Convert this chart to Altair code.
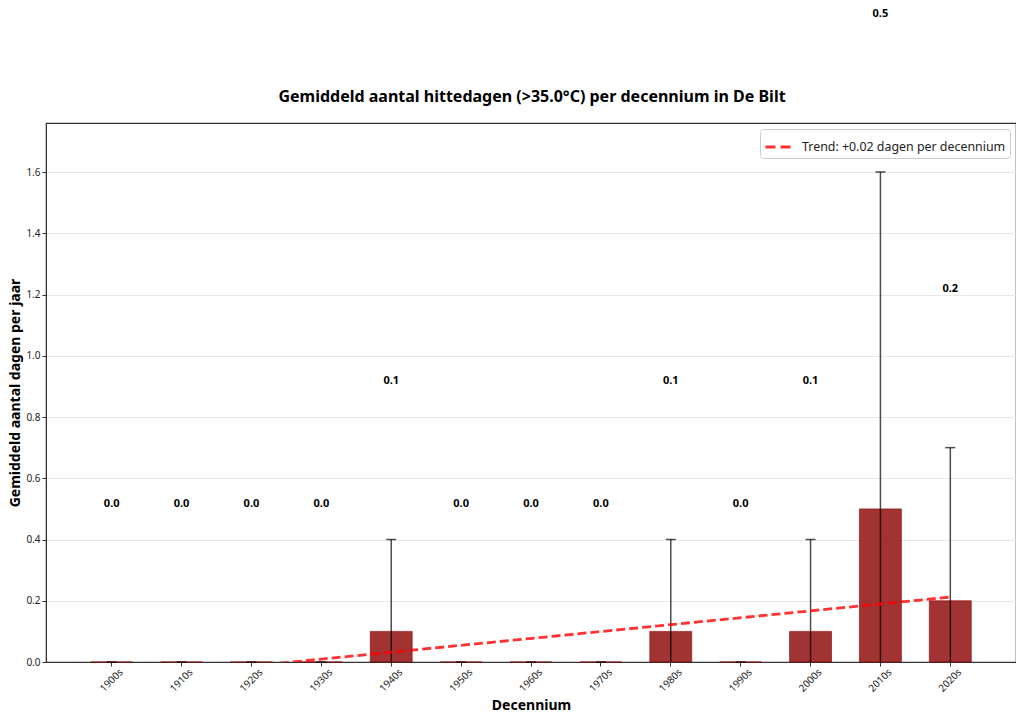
import altair as alt
import pandas as pd

decades = ["1900s", "1910s", "1920s", "1930s", "1940s", "1950s", "1960s",
           "1970s", "1980s", "1990s", "2000s", "2010s", "2020s"]
means = [0.0, 0.0, 0.0, 0.0, 0.1, 0.0, 0.0, 0.0, 0.1, 0.0, 0.1, 0.5, 0.2]
stds = [0.0, 0.0, 0.0, 0.0, 0.3, 0.0, 0.0, 0.0, 0.3, 0.0, 0.3, 1.1, 0.5]

trend_decades = ["1900s", "2020s"]
trend_values = [-0.058, 0.212]
trend_label = "Trend: +0.02 dagen per decennium"

title_text = "Gemiddeld aantal hittedagen (>35.0°C) per decennium in De Bilt"
FONT = "Noto Sans"

df = pd.DataFrame({"decade": decades, "mean": means, "std": stds})
df["lo"] = df["mean"] - df["std"]
df["hi"] = df["mean"] + df["std"]
df["label"] = [f"{m:.1f}" for m in means]

tdf = pd.DataFrame({"decade": trend_decades, "value": trend_values,
                    "series": [trend_label] * 2})

xscale = alt.Scale(domain=decades, paddingInner=0.4, paddingOuter=0.64)
yscale = alt.Scale(domain=[0, 1.76], nice=False, zero=False)

x_enc = alt.X("decade:N", scale=xscale, sort=decades,
              axis=alt.Axis(title="Decennium", labelAngle=-45, labelAlign="center",
                            labelBaseline="middle", labelPadding=14, tickSize=4,
                            labelFontSize=10, titleFontSize=14, titleFontWeight="bold",
                            titlePadding=5, labelColor="#222", titleColor="#000",
                            domainColor="#333", tickColor="#333"))
y_axis = alt.Axis(title="Gemiddeld aantal dagen per jaar",
                  values=[0, 0.2, 0.4, 0.6, 0.8, 1.0, 1.2, 1.4, 1.6], format=".1f",
                  grid=True, gridColor="#e8e8e8", tickSize=4, labelFontSize=10,
                  titleFontSize=14, titleFontWeight="bold", titlePadding=3,
                  labelColor="#222", titleColor="#000", domainColor="#333",
                  tickColor="#333")

base = alt.Chart(df)

bars = base.mark_bar(color="#8b0000", fillOpacity=0.8, stroke="#8b0000",
                     strokeOpacity=0.6, strokeWidth=1).encode(
    x=x_enc,
    y=alt.Y("mean:Q", scale=yscale, axis=y_axis),
)

err = base.mark_rule(color="#000", opacity=0.7, strokeWidth=1.5, clip=True).encode(
    x="decade:N", y="lo:Q", y2="hi:Q")

caps = base.mark_tick(color="#000", opacity=0.7, size=10, thickness=1.5,
                      orient="horizontal").encode(x="decade:N", y="hi:Q")

texts = base.transform_calculate(ty="datum.hi + 0.52").mark_text(
    font=FONT, fontSize=11, fontWeight="bold", color="#000", baseline="middle", dy=1
).encode(x="decade:N", y="ty:Q", text="label:N")

trend = alt.Chart(tdf).mark_line(strokeWidth=2.8, strokeDash=[9, 4], clip=True,
                                 opacity=0.8).encode(
    x="decade:N", y="value:Q",
    color=alt.Color("series:N", scale=alt.Scale(range=["#ff0000"]),
                    legend=alt.Legend(title=None, orient="top-right", offset=6,
                                      fillColor="white", strokeColor="#cccccc",
                                      cornerRadius=3, padding=4, labelFontSize=12.4,
                                      labelFont=FONT, labelColor="#222",
                                      labelLimit=400, labelOffset=10,
                                      symbolType="stroke", symbolSize=625,
                                      symbolStrokeWidth=3, symbolDash=[10, 5],
                                      symbolOpacity=0.8)),
)

title_layer = alt.Chart(pd.DataFrame({"t": [title_text]})).mark_text(
    font=FONT, fontSize=16, fontWeight="bold", color="#000",
    align="center", baseline="middle"
).encode(text="t:N", x=alt.value(486), y=alt.value(-26))

chart = alt.layer(bars, err, caps, trend, texts, title_layer).properties(
    width=970, height=539,
    autosize=alt.AutoSizeParams(type="none"),
    padding={"left": 38, "top": 115, "right": 0, "bottom": 52},
).configure(font=FONT).configure_view(stroke="#333", strokeWidth=1.2)

chart.save("out.html", embed_options={"renderer": "svg", "actions": False})
